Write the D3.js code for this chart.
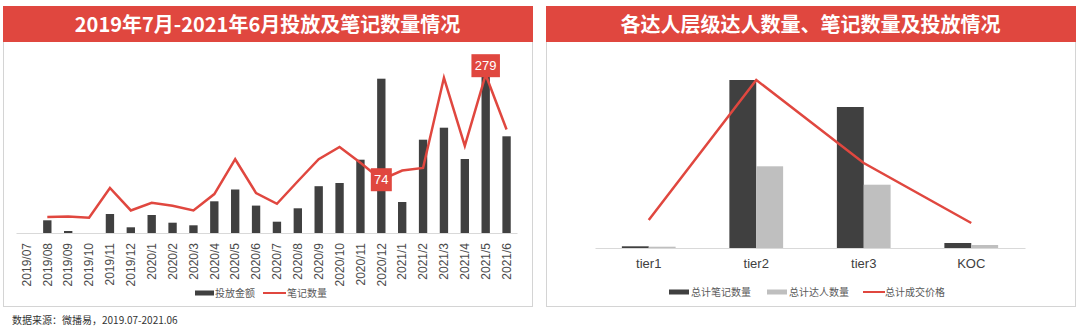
<!DOCTYPE html>
<html>
<head>
<meta charset="utf-8">
<script src="https://cdn.jsdelivr.net/npm/d3@7"></script>
<style>
  body { margin: 0; background: #fff; }
  svg { display: block; font-family: "Liberation Sans", Arial, "Noto Sans CJK SC", sans-serif; }
  .title { font-family: "Noto Sans CJK SC", sans-serif; font-weight: 700; fill: #fff; }
  .cjk { font-family: "Noto Sans CJK SC", sans-serif; }
</style>
</head>
<body>
<svg id="chart" width="1080" height="329"></svg>
<script>
// left chart data
const months = ["2019/07", "2019/08", "2019/09", "2019/10", "2019/11", "2019/12",
  "2020/1", "2020/2", "2020/3", "2020/4", "2020/5", "2020/6", "2020/7", "2020/8",
  "2020/9", "2020/10", "2020/11", "2020/12", "2021/1", "2021/2", "2021/3", "2021/4",
  "2021/5", "2021/6"];
const spend = [0, 12.7, 2, 0, 19, 5.7, 18, 10.3, 7.7, 31.7, 43.5, 27.4, 11.3, 24.7,
  46.8, 50, 73.3, 154.3, 31, 93.3, 105.3, 74, 156.7, 96.7];
const notes = [null, 1, 2, 0, 58, 14, 29, 23, 14, 46, 114, 48, 27, 71, 114, 138, 107,
  74, 92, 97, 273, 140, 279, 172];
const labelled = ["2020/12", "2021/5"];

// right chart data
const tiers = ["tier1", "tier2", "tier3", "KOC"];
const tierNotes = [1.7, 168, 141, 5];
const tierKols = [1.3, 81.7, 63.3, 3];
const tierPrice = [28, 168, 85, 25];

const red = "#e0473f";
const dark = "#404040";
const grey = "#bfbfbf";

const svg = d3.select("#chart");

// panels + title bars
const panels = [
  { x: 3, w: 529, title: "2019年7月-2021年6月投放及笔记数量情况" },
  { x: 546, w: 529, title: "各达人层级达人数量、笔记数量及投放情况" }
];
panels.forEach(p => {
  svg.append("rect")
    .attr("x", p.x + 0.5).attr("y", 6.5)
    .attr("width", p.w).attr("height", 300)
    .attr("fill", "#fff").attr("stroke", "#d4d4d4");
  svg.append("rect")
    .attr("x", p.x).attr("y", 6)
    .attr("width", p.w + 1).attr("height", 36)
    .attr("fill", red);
  svg.append("text").attr("class", "title")
    .attr("x", p.x + p.w / 2).attr("y", 25)
    .attr("text-anchor", "middle").attr("dy", "0.35em")
    .style("font-size", "20px")
    .text(p.title);
});

// ---------- left chart ----------
const base = 233;
const x = d3.scaleBand().domain(months).range([16, 517])
  .paddingInner(0.6).paddingOuter(0.3);
const ySpend = d3.scaleLinear().domain([0, 160]).range([base, 73]);
const yNotes = d3.scaleLinear().domain([-30, 282.3]).range([base, 73]);

svg.append("g").selectAll("rect")
  .data(months)
  .join("rect")
  .attr("x", d => x(d))
  .attr("width", x.bandwidth())
  .attr("y", (d, i) => ySpend(spend[i]))
  .attr("height", (d, i) => base - ySpend(spend[i]))
  .attr("fill", dark);

const xAxis = svg.append("g")
  .attr("transform", `translate(0,${base})`)
  .call(d3.axisBottom(x).tickSize(0).tickSizeOuter(0));
xAxis.select(".domain").attr("stroke", "#d9d9d9");
xAxis.selectAll("text")
  .attr("transform", "rotate(-90)")
  .attr("x", -10).attr("y", 0).attr("dy", "0.35em")
  .attr("text-anchor", "end")
  .attr("fill", "#4a4a4a")
  .style("font-size", "12px")
  .style("font-family", "'Liberation Sans', Arial, sans-serif");

const lineData = months.map((m, i) => ({ m, v: notes[i] })).filter(d => d.v !== null);
const line = d3.line()
  .x(d => x(d.m) + x.bandwidth() / 2)
  .y(d => yNotes(d.v));
svg.append("path")
  .datum(lineData)
  .attr("d", line)
  .attr("fill", "none")
  .attr("stroke", red)
  .attr("stroke-width", 2.5)
  .attr("stroke-linejoin", "miter");

// data labels
lineData.filter(d => labelled.includes(d.m)).forEach(d => {
  const cx = x(d.m) + x.bandwidth() / 2;
  const top = d.m === "2021/5";
  const cy = top ? yNotes(d.v) - 9 : yNotes(d.v);
  const w = String(d.v).length * 7.5 + 6;
  svg.append("rect")
    .attr("x", cx - w / 2).attr("y", cy - 11.5)
    .attr("width", w).attr("height", 23)
    .attr("fill", red);
  svg.append("text")
    .attr("x", cx).attr("y", cy).attr("dy", "0.36em")
    .attr("text-anchor", "middle")
    .attr("fill", "#fff")
    .style("font-size", "13px")
    .text(d.v);
});

// left legend
const legL = svg.append("g").attr("class", "cjk").style("font-size", "10px");
legL.append("rect").attr("x", 195).attr("y", 290.5).attr("width", 19).attr("height", 5).attr("fill", dark);
legL.append("text").attr("x", 215).attr("y", 293).attr("dy", "0.35em").attr("fill", "#595959").text("投放金额");
legL.append("line").attr("x1", 263).attr("x2", 286).attr("y1", 293).attr("y2", 293)
  .attr("stroke", red).attr("stroke-width", 2);
legL.append("text").attr("x", 287).attr("y", 293).attr("dy", "0.35em").attr("fill", "#595959").text("笔记数量");

svg.append("text").attr("class", "cjk")
  .attr("x", 12).attr("y", 320).attr("dy", "0.35em")
  .attr("fill", "#333").style("font-size", "10px")
  .text("数据来源：微播易，2019.07-2021.06");

// ---------- right chart ----------
const base2 = 248;
const x0 = d3.scaleBand().domain(tiers).range([595, 1025])
  .paddingInner(0.5).paddingOuter(0.25);
const x1 = d3.scaleBand().domain(["notes", "kols"]).range([0, x0.bandwidth()]);
const yBar = d3.scaleLinear().domain([0, 170]).range([base2, 78]);
const yPrice = d3.scaleLinear().domain([0, 170]).range([base2, 78]);

const groups = svg.append("g").selectAll("g")
  .data(tiers)
  .join("g")
  .attr("transform", d => `translate(${x0(d)},0)`);
groups.append("rect")
  .attr("x", x1("notes")).attr("width", x1.bandwidth())
  .attr("y", (d, i) => yBar(tierNotes[i]))
  .attr("height", (d, i) => base2 - yBar(tierNotes[i]))
  .attr("fill", dark);
groups.append("rect")
  .attr("x", x1("kols")).attr("width", x1.bandwidth())
  .attr("y", (d, i) => yBar(tierKols[i]))
  .attr("height", (d, i) => base2 - yBar(tierKols[i]))
  .attr("fill", grey);

const xAxis2 = svg.append("g")
  .attr("transform", `translate(0,${base2})`)
  .call(d3.axisBottom(x0).tickSize(0).tickSizeOuter(0).tickPadding(20));
xAxis2.select(".domain").attr("stroke", "#d9d9d9");
xAxis2.selectAll("text")
  .attr("dy", "0")
  .attr("fill", dark)
  .style("font-size", "13px")
  .style("font-family", "'Liberation Sans', Arial, sans-serif");

const priceLine = d3.line()
  .x((d, i) => x0(tiers[i]) + x0.bandwidth() / 2)
  .y(d => yPrice(d));
svg.append("path")
  .datum(tierPrice)
  .attr("d", priceLine)
  .attr("fill", "none")
  .attr("stroke", red)
  .attr("stroke-width", 2.5);

// right legend
const legR = svg.append("g").attr("class", "cjk").style("font-size", "10px");
const legItems = [
  { type: "rect", color: dark, x: 669, label: "总计笔记数量" },
  { type: "rect", color: grey, x: 767, label: "总计达人数量" },
  { type: "line", color: red, x: 863, label: "总计成交价格" }
];
legItems.forEach(it => {
  if (it.type === "rect") {
    legR.append("rect").attr("x", it.x).attr("y", 289.5).attr("width", 20).attr("height", 5).attr("fill", it.color);
  } else {
    legR.append("line").attr("x1", it.x).attr("x2", it.x + 22).attr("y1", 292).attr("y2", 292)
      .attr("stroke", it.color).attr("stroke-width", 2);
  }
  legR.append("text").attr("x", it.x + 22).attr("y", 292).attr("dy", "0.35em")
    .attr("fill", "#595959").text(it.label);
});
</script>
</body>
</html>
